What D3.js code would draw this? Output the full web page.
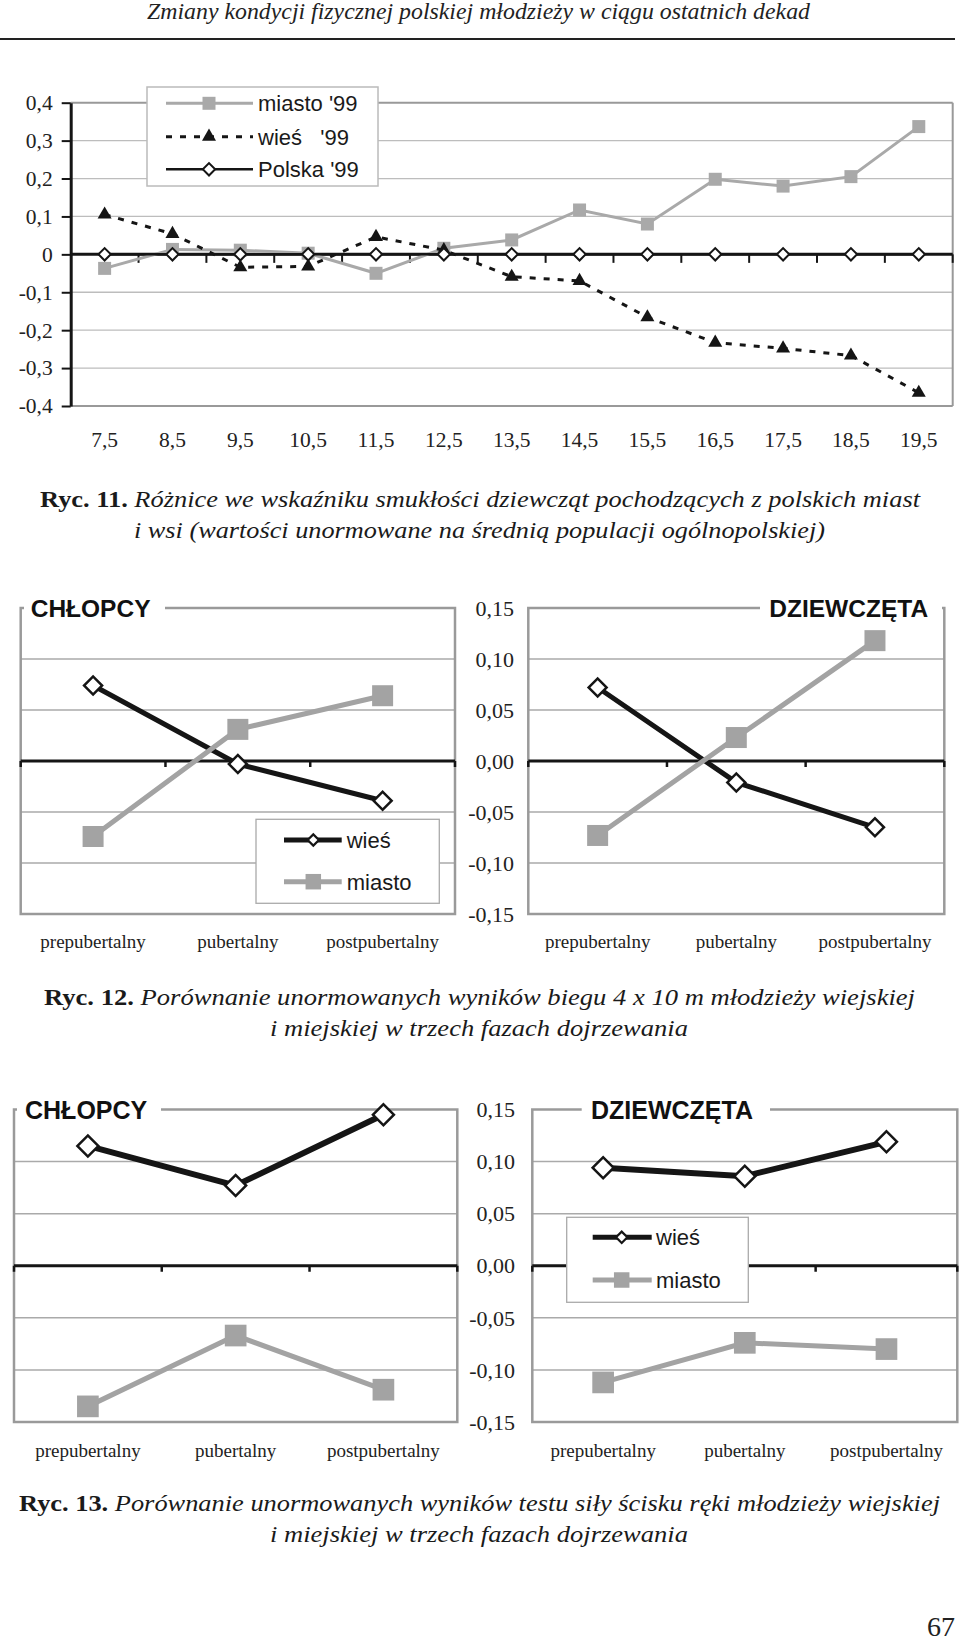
<!DOCTYPE html>
<html><head><meta charset="utf-8">
<script src="https://cdn.jsdelivr.net/npm/d3@7"></script>
<style>body{margin:0;background:#fff} svg{display:block}</style>
</head><body>
<svg id="c" width="960" height="1643"></svg>
<script>
// ---------- DATA ----------
// Ryc. 11
const ages = ["7,5","8,5","9,5","10,5","11,5","12,5","13,5","14,5","15,5","16,5","17,5","18,5","19,5"];
const miasto99 = [-0.037, 0.013, 0.011, 0.003, -0.050, 0.016, 0.038, 0.117, 0.080, 0.198, 0.180, 0.205, 0.337];
const wies99   = [0.105, 0.054, -0.034, -0.032, 0.046, 0.011, -0.059, -0.070, -0.166, -0.233, -0.248, -0.267, -0.365];
const polska99 = [0, 0, 0, 0, 0, 0, 0, 0, 0, 0, 0, 0, 0];
const yTicks1 = [0.4, 0.3, 0.2, 0.1, 0, -0.1, -0.2, -0.3, -0.4];
const legend1 = ["miasto '99", "wieś   '99", "Polska '99"];
// Ryc. 12 / 13
const phases = ["prepubertalny", "pubertalny", "postpubertalny"];
const biegChlopcyWies = [0.074, -0.003, -0.039];
const biegChlopcyMiasto = [-0.074, 0.031, 0.064];
const biegDziewczetaWies = [0.072, -0.021, -0.065];
const biegDziewczetaMiasto = [-0.073, 0.023, 0.118];
const sciskChlopcyWies = [0.115, 0.077, 0.145];
const sciskChlopcyMiasto = [-0.135, -0.067, -0.119];
const sciskDziewczetaWies = [0.094, 0.086, 0.119];
const sciskDziewczetaMiasto = [-0.112, -0.074, -0.080];
const yTicks2 = [0.15, 0.10, 0.05, 0, -0.05, -0.10, -0.15];
const legend2 = ["wieś", "miasto"];

// ---------- HELPERS ----------
const svg = d3.select("#c");
const SERIF = "'Liberation Serif', 'Times New Roman', serif";
const SANS = "'Liberation Sans', Arial, sans-serif";
const fmt1 = d => d === 0 ? "0" : d3.format(".1f")(d).replace(".", ",").replace("\u2212", "-");
const fmt2 = d => d3.format(".2f")(d).replace(".", ",").replace("\u2212", "-");
const GRAY = "#a3a3a3";
const DARK = "#151515";

function caption(boldPart, italicPart, x, y, width) {
  const t = svg.append("text").attr("x", x).attr("y", y).attr("text-anchor", "middle")
    .attr("font-family", SERIF).attr("font-size", 24).attr("fill", "#1a1a1a")
    .attr("textLength", width).attr("lengthAdjust", "spacingAndGlyphs");
  if (boldPart) t.append("tspan").attr("font-weight", "bold").text(boldPart + " ");
  t.append("tspan").attr("font-style", "italic").text(italicPart);
}

// ---------- HEADER ----------
svg.append("text").attr("x", 478.5).attr("y", 18.5).attr("text-anchor", "middle")
  .attr("font-family", SERIF).attr("font-style", "italic").attr("font-size", 23).attr("fill", "#222")
  .attr("textLength", 663).attr("lengthAdjust", "spacingAndGlyphs")
  .text("Zmiany kondycji fizycznej polskiej młodzieży w ciągu ostatnich dekad");
svg.append("line").attr("x1", 0).attr("x2", 955).attr("y1", 39).attr("y2", 39)
  .attr("stroke", "#222").attr("stroke-width", 2);

// ---------- RYC. 11 ----------
(function () {
  const g = svg.append("g");
  const x = d3.scaleBand().domain(ages).range([70.7, 952.7]);
  const y = d3.scaleLinear().domain([-0.4, 0.4]).range([406, 102.7]);
  const [xl, xr] = x.range();
  const cx = d => x(d) + x.bandwidth() / 2;

  g.selectAll(".grid").data(yTicks1.filter(d => d !== 0)).join("line")
    .attr("x1", xl).attr("x2", xr).attr("y1", d => y(d)).attr("y2", d => y(d))
    .attr("stroke", d => Math.abs(d) === 0.4 ? "#999" : "#bdbdbd")
    .attr("stroke-width", d => Math.abs(d) === 0.4 ? 2 : 1.3);
  g.append("line").attr("x1", xr).attr("x2", xr).attr("y1", y(0.4)).attr("y2", y(-0.4))
    .attr("stroke", "#999").attr("stroke-width", 2);

  // legend box (over the grid)
  const lg = g.append("g");
  lg.append("rect").attr("x", 147).attr("y", 87).attr("width", 231).attr("height", 99)
    .attr("fill", "#fff").attr("stroke", "#bbb").attr("stroke-width", 1.5);

  const ax = g.append("g").attr("transform", `translate(${xl},0)`)
    .call(d3.axisLeft(y).tickValues(yTicks1).tickSize(9).tickSizeOuter(0).tickPadding(9).tickFormat(fmt1));
  ax.select(".domain").attr("stroke", DARK).attr("stroke-width", 3);
  ax.selectAll(".tick line").attr("stroke", DARK).attr("stroke-width", 2);
  ax.selectAll("text").attr("font-family", SERIF).attr("font-size", 21.5).attr("fill", "#222");

  // zero axis with category boundary ticks
  g.append("line").attr("x1", xl).attr("x2", xr).attr("y1", y(0)).attr("y2", y(0))
    .attr("stroke", DARK).attr("stroke-width", 3);
  const bounds = ages.slice(1).map(d => x(d)).concat([xr]);
  g.selectAll(".xt").data(bounds).join("line")
    .attr("x1", d => d).attr("x2", d => d).attr("y1", y(0)).attr("y2", y(0) + 8.5)
    .attr("stroke", DARK).attr("stroke-width", 2);

  g.selectAll(".xl").data(ages).join("text")
    .attr("x", d => cx(d)).attr("y", 446.7).attr("text-anchor", "middle")
    .attr("font-family", SERIF).attr("font-size", 21.5).attr("fill", "#222").text(d => d);

  const line = d3.line().x((d, i) => cx(ages[i])).y(d => y(d));
  // miasto
  g.append("path").attr("d", line(miasto99)).attr("fill", "none").attr("stroke", "#a9a9a9").attr("stroke-width", 3);
  g.selectAll(".ms").data(miasto99).join("path")
    .attr("transform", (d, i) => `translate(${cx(ages[i])},${y(d)})`)
    .attr("d", d3.symbol(d3.symbolSquare, 169)).attr("fill", "#a9a9a9");
  // wies
  g.append("path").attr("d", line(wies99)).attr("fill", "none").attr("stroke", DARK).attr("stroke-width", 3)
    .attr("stroke-dasharray", "6,8");
  g.selectAll(".ws").data(wies99).join("path")
    .attr("transform", (d, i) => `translate(${cx(ages[i])},${y(d)})`)
    .attr("d", d3.symbol(d3.symbolTriangle, 85)).attr("fill", DARK);
  // Polska
  g.append("path").attr("d", line(polska99)).attr("fill", "none").attr("stroke", DARK).attr("stroke-width", 2.5);
  g.selectAll(".ps").data(polska99).join("path")
    .attr("transform", (d, i) => `translate(${cx(ages[i])},${y(d)}) rotate(45)`)
    .attr("d", d3.symbol(d3.symbolSquare, 76)).attr("fill", "#fff").attr("stroke", DARK).attr("stroke-width", 2);

  // legend entries
  const ly = [103.3, 136.7, 169.3];
  lg.append("line").attr("x1", 166).attr("x2", 253).attr("y1", ly[0]).attr("y2", ly[0]).attr("stroke", "#a9a9a9").attr("stroke-width", 3);
  lg.append("path").attr("transform", `translate(209,${ly[0]})`).attr("d", d3.symbol(d3.symbolSquare, 169)).attr("fill", "#a9a9a9");
  lg.append("line").attr("x1", 166).attr("x2", 253).attr("y1", ly[1]).attr("y2", ly[1]).attr("stroke", DARK).attr("stroke-width", 3).attr("stroke-dasharray", "6,8");
  lg.append("path").attr("transform", `translate(209,${ly[1]})`).attr("d", d3.symbol(d3.symbolTriangle, 85)).attr("fill", DARK);
  lg.append("line").attr("x1", 166).attr("x2", 253).attr("y1", ly[2]).attr("y2", ly[2]).attr("stroke", DARK).attr("stroke-width", 2.5);
  lg.append("path").attr("transform", `translate(209,${ly[2]}) rotate(45)`).attr("d", d3.symbol(d3.symbolSquare, 76))
    .attr("fill", "#fff").attr("stroke", DARK).attr("stroke-width", 2);
  lg.selectAll(".lt").data(legend1).join("text")
    .attr("x", 258).attr("y", (d, i) => ly[i] + 8).attr("font-family", SANS).attr("font-size", 22)
    .attr("fill", "#1a1a1a").attr("xml:space", "preserve").style("white-space", "pre").text(d => d);
})();

caption("Ryc. 11.", "Różnice we wskaźniku smukłości dziewcząt pochodzących z polskich miast", 480, 507, 880);
caption(null, "i wsi (wartości unormowane na średnią populacji ogólnopolskiej)", 479.5, 538, 691);

// ---------- PANELS (Ryc. 12 / 13) ----------
function panel(c) {
  const g = svg.append("g");
  const x = d3.scaleBand().domain(phases).range([c.left, c.right]);
  const y = d3.scaleLinear().domain([-0.15, 0.15]).range([c.bottom, c.top]);
  const cx = d => x(d) + x.bandwidth() / 2;

  g.selectAll(".grid").data(yTicks2.filter(d => d !== 0 && Math.abs(d) !== 0.15)).join("line")
    .attr("x1", c.left).attr("x2", c.right).attr("y1", d => y(d)).attr("y2", d => y(d))
    .attr("stroke", "#aaa").attr("stroke-width", 1.5);
  g.append("rect").attr("x", c.left).attr("y", c.top).attr("width", c.right - c.left).attr("height", c.bottom - c.top)
    .attr("fill", "none").attr("stroke", "#9a9a9a").attr("stroke-width", 2.5);
  // gap in top frame for the title
  g.append("rect").attr("x", c.gap[0]).attr("y", c.top - 3).attr("width", c.gap[1] - c.gap[0]).attr("height", 6).attr("fill", "#fff");
  g.append("text").attr("x", c.titleX).attr("y", c.top + 9).attr("font-family", SANS).attr("font-weight", "bold")
    .attr("font-size", c.titleSize).attr("fill", "#111").text(c.title);

  g.append("line").attr("x1", c.left).attr("x2", c.right).attr("y1", y(0)).attr("y2", y(0))
    .attr("stroke", DARK).attr("stroke-width", 3);
  const bounds = [c.left].concat(phases.slice(1).map(d => x(d))).concat([c.right]);
  g.selectAll(".xt").data(bounds).join("line")
    .attr("x1", d => d).attr("x2", d => d).attr("y1", y(0)).attr("y2", y(0) + 6)
    .attr("stroke", DARK).attr("stroke-width", 2.5);

  g.selectAll(".xl").data(phases).join("text")
    .attr("x", d => cx(d)).attr("y", c.labelY).attr("text-anchor", "middle")
    .attr("font-family", SERIF).attr("font-size", 19).attr("fill", "#222").text(d => d);

  const line = d3.line().x((d, i) => cx(phases[i])).y(d => y(d));
  g.append("path").attr("d", line(c.wies)).attr("fill", "none").attr("stroke", DARK).attr("stroke-width", c.lineW);
  g.append("path").attr("d", line(c.miasto)).attr("fill", "none").attr("stroke", GRAY).attr("stroke-width", 5);
  g.selectAll(".ws").data(c.wies).join("path")
    .attr("transform", (d, i) => `translate(${cx(phases[i])},${y(d)}) rotate(45)`)
    .attr("d", d3.symbol(d3.symbolSquare, c.dia)).attr("fill", "#fff").attr("stroke", DARK).attr("stroke-width", 2.5);
  g.selectAll(".ms").data(c.miasto).join("path")
    .attr("transform", (d, i) => `translate(${cx(phases[i])},${y(d)})`)
    .attr("d", d3.symbol(d3.symbolSquare, c.sq)).attr("fill", GRAY);

  if (c.legend) {
    const L = c.legend;
    const lg = g.append("g");
    lg.append("rect").attr("x", L.x0).attr("y", L.y0).attr("width", L.x1 - L.x0).attr("height", L.y1 - L.y0)
      .attr("fill", "#fff").attr("stroke", "#aaa").attr("stroke-width", 1.3);
    lg.append("line").attr("x1", L.s0).attr("x2", L.s1).attr("y1", L.ly[0]).attr("y2", L.ly[0]).attr("stroke", DARK).attr("stroke-width", 5);
    lg.append("path").attr("transform", `translate(${L.m},${L.ly[0]}) rotate(45)`).attr("d", d3.symbol(d3.symbolSquare, 64))
      .attr("fill", "#fff").attr("stroke", DARK).attr("stroke-width", 2.2);
    lg.append("line").attr("x1", L.s0).attr("x2", L.s1).attr("y1", L.ly[1]).attr("y2", L.ly[1]).attr("stroke", GRAY).attr("stroke-width", 5);
    lg.append("path").attr("transform", `translate(${L.m},${L.ly[1]})`).attr("d", d3.symbol(d3.symbolSquare, 240)).attr("fill", GRAY);
    lg.selectAll(".lt").data(legend2).join("text")
      .attr("x", L.t).attr("y", (d, i) => L.ly[i] + 8).attr("font-family", SANS).attr("font-size", 22)
      .attr("fill", "#1a1a1a").text(d => d);
  }
  return y;
}

function yLabels(y, xRight) {
  svg.append("g").selectAll("text").data(yTicks2).join("text")
    .attr("x", xRight).attr("y", d => y(d)).attr("dy", "0.35em").attr("text-anchor", "end")
    .attr("font-family", SERIF).attr("font-size", 22).attr("fill", "#222").text(fmt2);
}

// Ryc. 12
const y12 = panel({ left: 20.7, right: 455, top: 608, bottom: 914, wies: biegChlopcyWies, miasto: biegChlopcyMiasto,
  title: "CHŁOPCY", titleX: 30.7, titleSize: 24.5, gap: [24, 165], labelY: 947.5, lineW: 5, dia: 162, sq: 441,
  legend: { x0: 256, x1: 439.3, y0: 819.3, y1: 903.3, ly: [840, 881.7], s0: 284, s1: 341.7, m: 313.3, t: 346.7 } });
panel({ left: 528.3, right: 944.3, top: 608, bottom: 914, wies: biegDziewczetaWies, miasto: biegDziewczetaMiasto,
  title: "DZIEWCZĘTA", titleX: 769.3, titleSize: 24.5, gap: [760, 942], labelY: 947.5, lineW: 5, dia: 162, sq: 441 });
yLabels(y12, 514);
caption("Ryc. 12.", "Porównanie unormowanych wyników biegu 4 x 10 m młodzieży wiejskiej", 479.5, 1005, 871);
caption(null, "i miejskiej w trzech fazach dojrzewania", 479, 1036, 418);

// Ryc. 13
const y13 = panel({ left: 14, right: 457.3, top: 1109.5, bottom: 1422, wies: sciskChlopcyWies, miasto: sciskChlopcyMiasto,
  title: "CHŁOPCY", titleX: 25, titleSize: 25, gap: [17, 161], labelY: 1456.7, lineW: 6, dia: 220, sq: 470 });
panel({ left: 532.3, right: 957.3, top: 1109.5, bottom: 1422, wies: sciskDziewczetaWies, miasto: sciskDziewczetaMiasto,
  title: "DZIEWCZĘTA", titleX: 591, titleSize: 25, gap: [581.7, 770], labelY: 1456.7, lineW: 6, dia: 220, sq: 470,
  legend: { x0: 566.7, x1: 748.3, y0: 1217.3, y1: 1302.3, ly: [1237.3, 1280], s0: 592.7, s1: 651.7, m: 621.7, t: 656 } });
yLabels(y13, 515);
caption("Ryc. 13.", "Porównanie unormowanych wyników testu siły ścisku ręki młodzieży wiejskiej", 479.5, 1511, 921);
caption(null, "i miejskiej w trzech fazach dojrzewania", 479, 1542, 418);

// page number
svg.append("text").attr("x", 955).attr("y", 1636).attr("text-anchor", "end")
  .attr("font-family", SERIF).attr("font-size", 28).attr("fill", "#222").text("67");
</script>
</body></html>
